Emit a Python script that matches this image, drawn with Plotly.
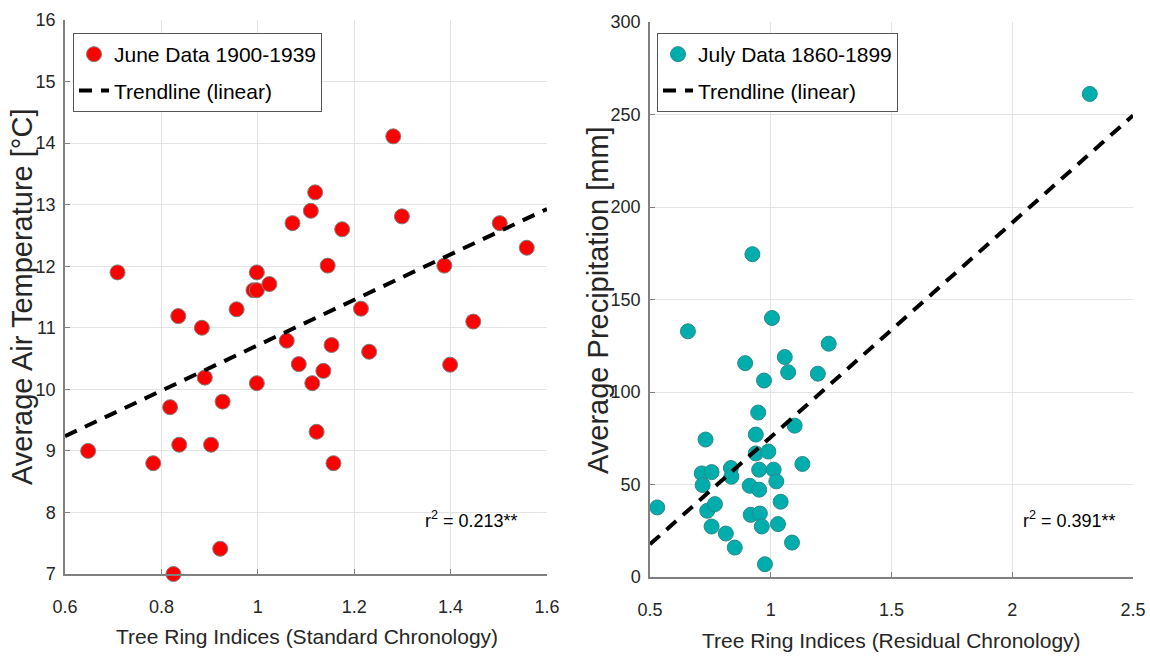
import plotly.graph_objects as go

# ---- Left panel data: June temperature vs standard chronology ----
june_x = [0.648, 0.709, 0.783, 0.818, 0.825, 0.835, 0.837, 0.884, 0.890, 0.903,
          0.922, 0.927, 0.956, 0.991, 0.998, 0.998, 0.998, 1.024, 1.060, 1.072,
          1.085, 1.110, 1.113, 1.119, 1.122, 1.136, 1.145, 1.153, 1.157, 1.175,
          1.214, 1.231, 1.281, 1.299, 1.387, 1.399, 1.447, 1.502, 1.558]
june_y = [9.00, 11.90, 8.80, 9.71, 7.00, 11.19, 9.10, 11.00, 10.19, 9.10,
          7.41, 9.80, 11.30, 11.61, 11.61, 11.90, 10.10, 11.71, 10.79, 12.70,
          10.41, 12.90, 10.10, 13.20, 9.31, 10.30, 12.01, 10.72, 8.80, 12.60,
          11.31, 10.61, 14.11, 12.81, 12.01, 10.40, 11.10, 12.70, 12.30]
june_trend_x = [0.6, 1.6]
june_trend_y = [9.24, 12.93]

# ---- Right panel data: July precipitation vs residual chronology ----
july_x = [0.530, 0.657, 0.714, 0.718, 0.730, 0.737, 0.755, 0.755, 0.769, 0.814,
          0.835, 0.837, 0.851, 0.894, 0.913, 0.917, 0.924, 0.938, 0.938, 0.948,
          0.952, 0.952, 0.955, 0.963, 0.972, 0.976, 0.990, 1.005, 1.012, 1.023,
          1.030, 1.041, 1.058, 1.072, 1.088, 1.099, 1.131, 1.195, 1.240, 2.321]
july_y = [37.6, 132.8, 56.0, 49.7, 74.3, 35.8, 56.7, 27.3, 39.4, 23.5,
          58.9, 54.2, 15.9, 115.6, 49.3, 33.6, 174.5, 77.0, 66.8, 88.9,
          58.0, 47.2, 34.3, 27.3, 106.2, 6.9, 67.8, 140.0, 58.0, 51.7,
          28.6, 40.7, 118.9, 110.7, 18.6, 81.8, 61.1, 109.9, 126.1, 261.1]
july_trend_x = [0.5, 2.5]
july_trend_y = [17.7, 249.5]

FONT = "Liberation Sans, Arial, sans-serif"
TXT = "#262626"
W, H = 1150, 660

fig = go.Figure()

fig.add_trace(go.Scatter(
    x=june_x, y=june_y, mode="markers", name="June Data 1900-1939",
    marker=dict(color="#ff0000", size=15, line=dict(color="#7f7f7f", width=1)),
    cliponaxis=False, xaxis="x", yaxis="y", legend="legend", legendgroup="a"))
fig.add_trace(go.Scatter(
    x=june_trend_x, y=june_trend_y, mode="lines", name="Trendline (linear)",
    line=dict(color="black", width=4, dash="13px,9px"),
    xaxis="x", yaxis="y", legend="legend", legendgroup="b"))

fig.add_trace(go.Scatter(
    x=july_x, y=july_y, mode="markers", name="July Data 1860-1899",
    marker=dict(color="#00adad", size=15, line=dict(color="#2a8a8a", width=1)),
    cliponaxis=False, xaxis="x2", yaxis="y2", legend="legend2", legendgroup="c"))
fig.add_trace(go.Scatter(
    x=july_trend_x, y=july_trend_y, mode="lines", name="Trendline (linear)",
    line=dict(color="black", width=4, dash="13px,9px"),
    xaxis="x2", yaxis="y2", legend="legend2", legendgroup="d"))

axis_common = dict(
    showgrid=True, gridcolor="#e3e3e3", gridwidth=1,
    showline=True, linecolor="#808080", linewidth=1.5,
    ticks="inside", ticklen=5, tickcolor="#808080",
    tickfont=dict(family=FONT, size=18, color=TXT),
    zeroline=False, mirror=False, automargin=False,
)

legend_common = dict(
    xanchor="left", yanchor="top",
    bgcolor="white", bordercolor="#555555", borderwidth=1,
    font=dict(family=FONT, size=21, color="black"),
    itemwidth=30, tracegroupgap=6,
)

fig.update_layout(
    width=W, height=H,
    margin=dict(l=0, r=0, t=0, b=0),
    paper_bgcolor="white", plot_bgcolor="white",
    font=dict(family=FONT, color=TXT),
    showlegend=True,
    xaxis=dict(domain=[65 / W, 547 / W], range=[0.6, 1.6], dtick=0.2, anchor="y",
               ticklabelstandoff=16, **axis_common),
    yaxis=dict(domain=[1 - 574 / H, 1 - 20 / H], range=[7, 16], dtick=1, anchor="x",
               ticklabelstandoff=4, **axis_common),
    xaxis2=dict(domain=[650 / W, 1133 / W], range=[0.5, 2.5], dtick=0.5, anchor="y2",
                ticklabelstandoff=16, **axis_common),
    yaxis2=dict(domain=[1 - 577 / H, 1 - 22 / H], range=[0, 300], dtick=50, anchor="x2",
                ticklabelstandoff=4, **axis_common),
    legend=dict(x=73 / W, y=1 - 33 / H, **legend_common),
    legend2=dict(x=657 / W, y=1 - 33 / H, **legend_common),
    annotations=[
        dict(x=1.444, y=7.88, xref="x", yref="y", showarrow=False,
             text="r<sup>2</sup> = 0.213**", font=dict(family=FONT, size=18, color="black")),
        dict(x=2.236, y=30.9, xref="x2", yref="y2", showarrow=False,
             text="r<sup>2</sup> = 0.391**", font=dict(family=FONT, size=18, color="black")),
        # axis titles
        dict(x=307 / W, y=1 - 636 / H, xref="paper", yref="paper", showarrow=False,
             xanchor="center", yanchor="middle",
             text="Tree Ring Indices (Standard Chronology)",
             font=dict(family=FONT, size=21, color=TXT)),
        dict(x=891 / W, y=1 - 640 / H, xref="paper", yref="paper", showarrow=False,
             xanchor="center", yanchor="middle",
             text="Tree Ring Indices (Residual Chronology)",
             font=dict(family=FONT, size=21, color=TXT)),
        dict(x=22 / W, y=1 - 297 / H, xref="paper", yref="paper", showarrow=False,
             xanchor="center", yanchor="middle", textangle=-90,
             text="Average Air Temperature [°C]",
             font=dict(family=FONT, size=29, color=TXT)),
        dict(x=598 / W, y=1 - 300 / H, xref="paper", yref="paper", showarrow=False,
             xanchor="center", yanchor="middle", textangle=-90,
             text="Average Precipitation [mm]",
             font=dict(family=FONT, size=29, color=TXT)),
    ],
)

fig.write_html("out.html")
